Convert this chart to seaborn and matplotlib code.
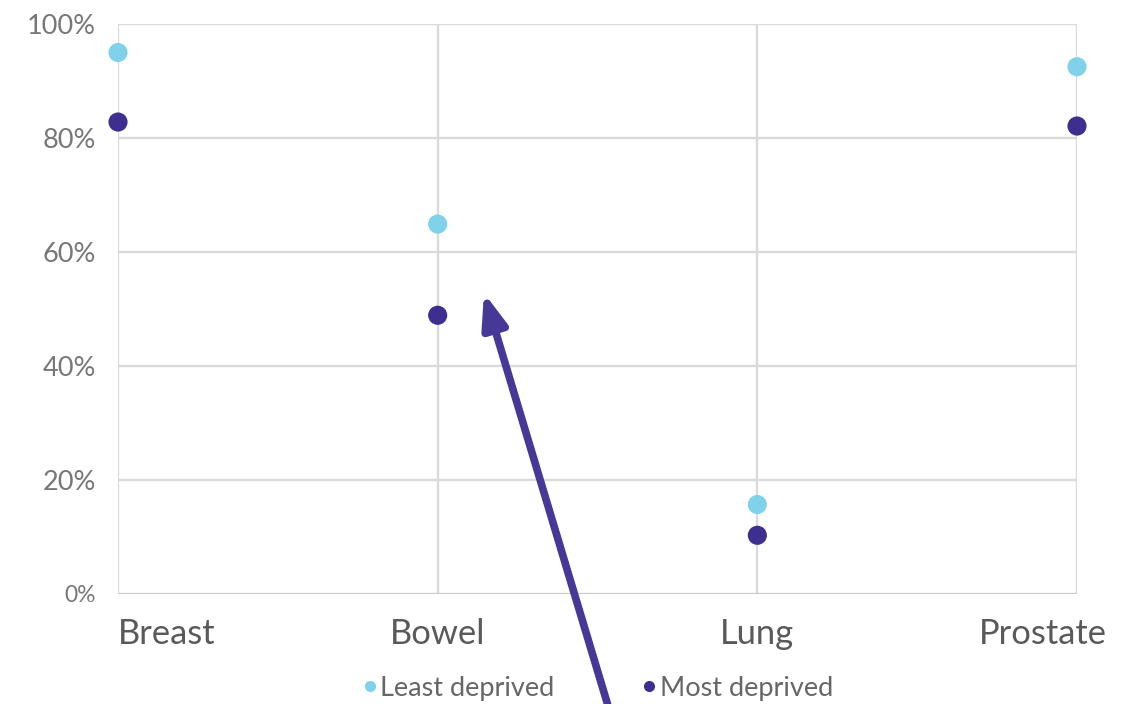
import matplotlib
matplotlib.use("Agg")
import matplotlib.pyplot as plt
from matplotlib.patches import ArrowStyle
from matplotlib.lines import Line2D
from matplotlib.transforms import ScaledTranslation
import numpy as np
import pandas as pd
import seaborn as sns

# Share of cancers diagnosed at an early stage, by deprivation group
cancers = ["Breast", "Bowel", "Lung", "Prostate"]
least_deprived = [95.0, 64.9, 15.7, 92.5]
most_deprived = [82.8, 48.9, 10.3, 82.1]
groups = ["Least deprived", "Most deprived"]
y_ticks = [0, 20, 40, 60, 80, 100]
y_tick_labels = ["0%", "20%", "40%", "60%", "80%", "100%"]

light_blue = "#7fd2ea"
dark_purple = "#3e2e8f"
grid_grey = "#dadada"

df = pd.DataFrame({
    "cancer": cancers * 2,
    "pos": list(range(len(cancers))) * 2,
    "value": least_deprived + most_deprived,
    "group": [groups[0]] * len(cancers) + [groups[1]] * len(cancers),
})

sns.set_theme(style="white")
plt.rcParams["font.family"] = ["Lato", "DejaVu Sans"]

fig = plt.figure(figsize=(11.35, 7.04), dpi=100)
ax = fig.add_axes([118 / 1135, 1 - 594 / 704, (1077 - 118) / 1135, (594 - 24) / 704])

sns.scatterplot(
    data=df, x="pos", y="value", hue="group",
    palette={groups[0]: light_blue, groups[1]: dark_purple},
    s=190, edgecolor="none", ax=ax, legend=False, zorder=3, clip_on=False,
)

ax.set_xlim(0, len(cancers) - 1)
ax.set_ylim(0, 100)
ax.set_xticks(range(len(cancers)))
ax.set_xticklabels(cancers)
ax.set_yticks(y_ticks)
ax.set_yticklabels(y_tick_labels)
ax.set_xlabel("")
ax.set_ylabel("")

ax.grid(True, axis="both", color=grid_grey, linewidth=1.7)
ax.set_axisbelow(True)
for side in ["top", "right", "left", "bottom"]:
    ax.spines[side].set_visible(False)
ax.axhline(0, color="#c8c8c8", linewidth=2.0, zorder=1)

ax.tick_params(axis="y", length=0, pad=16, labelsize=19.5, labelcolor="#777777")
ax.tick_params(axis="x", length=0, pad=17, labelsize=24.8, labelcolor="#5a5a5a")
ax.get_yticklabels()[0].set_fontsize(16.5)

# first label hugs the left edge, last label sits slightly inside the frame
xlabels = ax.get_xticklabels()
xlabels[0].set_horizontalalignment("left")
xlabels[-1].set_transform(xlabels[-1].get_transform()
                          + ScaledTranslation(-0.34, 0, fig.dpi_scale_trans))

handles = [
    Line2D([], [], marker="o", linestyle="none", markersize=8,
           markerfacecolor=c, markeredgecolor="none", label=g)
    for c, g in zip([light_blue, dark_purple], groups)
]
fig.legend(handles=handles, loc="lower center", bbox_to_anchor=(0.524, -0.03),
           ncol=2, frameon=False, fontsize=19.5, labelcolor="#666666",
           handletextpad=-0.1, columnspacing=3.0, handlelength=1.0)

ax.annotate(
    "", xy=(484, 704 - 293), xytext=(612, -15),
    xycoords="figure pixels", textcoords="figure pixels",
    arrowprops=dict(
        arrowstyle=ArrowStyle("-|>", head_length=0.75, head_width=0.28),
        mutation_scale=27, lw=5.5, color="#463896",
        shrinkA=0, shrinkB=0,
    ),
    annotation_clip=False,
)

fig.savefig("out.png", dpi=100, facecolor="white")
